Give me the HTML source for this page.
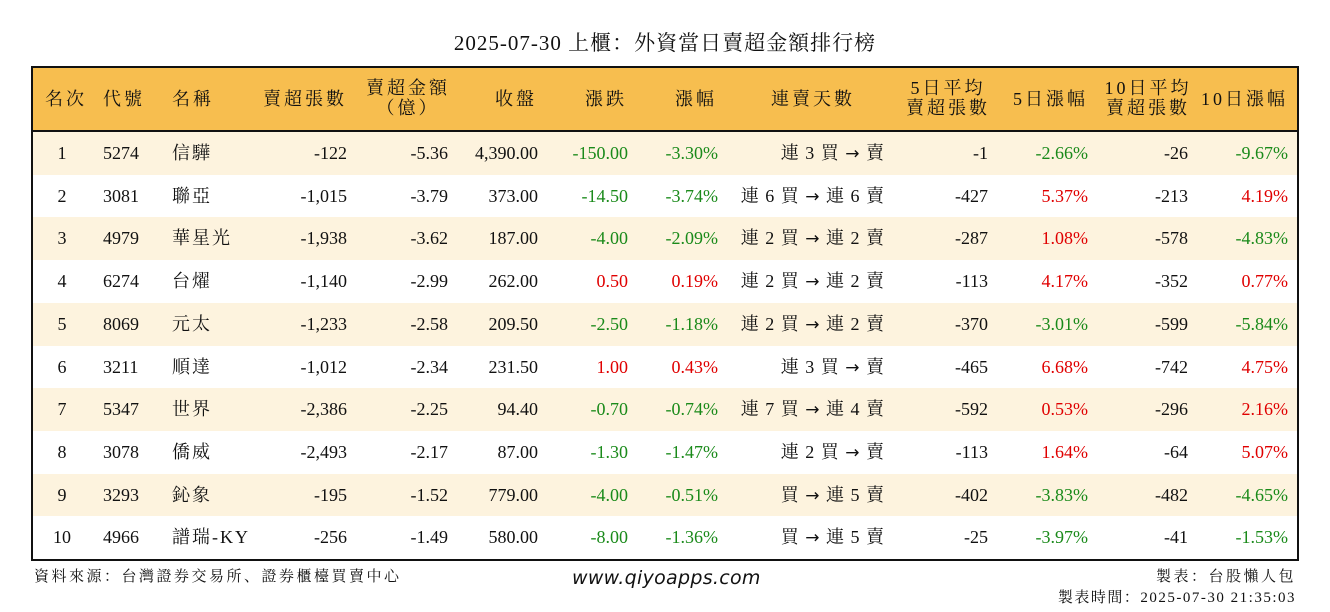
<!DOCTYPE html>
<html><head><meta charset="utf-8">
<style>
body{margin:0;width:1330px;height:612px;background:#fff;position:relative;overflow:hidden;font-family:"Liberation Serif","Noto Serif CJK SC",serif;color:#111}
.cjk{font-family:"Noto Serif CJK SC",serif}
#title{position:absolute;left:0;width:1330px;top:28px;text-align:center;font-size:21px;line-height:28px;letter-spacing:1px}
#tbl{position:absolute;left:31px;top:66px;width:1264px;height:491px;border:2px solid #111;overflow:hidden}
#head{position:absolute;left:0;top:0;width:1264px;height:62px;background:#F7BE4F;border-bottom:2px solid #111}
.c{position:absolute;font-size:18px;line-height:20px;white-space:nowrap}
.hd{letter-spacing:3px}
.row{position:absolute;left:0;width:1264px;height:43px}
.g{color:#1a8a1a}.r{color:#e00000}
.ft{position:absolute;font-size:15px;line-height:20px;white-space:nowrap;letter-spacing:2.5px}
.arr{font-family:"DejaVu Sans",sans-serif;font-size:17px}
</style></head><body>
<div id="title">2025-07-30 上櫃<span class="cjk">：</span>外資當日賣超金額排行榜</div>
<div id="tbl">
<div id="head"></div>
</div>
<div class="ft" style="left:34px;top:566px">資料來源<span class="cjk">：</span>台灣證券交易所、證券櫃檯買賣中心</div>
<div class="ft" style="left:572px;top:568px;font-family:'DejaVu Sans',sans-serif;font-style:italic;font-size:19px;letter-spacing:0.3px">www.qiyoapps.com</div>
<div class="ft" style="right:34px;top:566px">製表<span class="cjk">：</span>台股懶人包</div>
<div class="ft" style="right:34px;top:587px;letter-spacing:1.5px">製表時間<span class="cjk">：</span>2025-07-30 21:35:03</div>
<script>
const ranks=[1,2,3,4,5,6,7,8,9,10];
const codes=["5274","3081","4979","6274","8069","3211","5347","3078","3293","4966"];
const names=["信驊","聯亞","華星光","台燿","元太","順達","世界","僑威","鈊象","譜瑞-KY"];
const sellVol=["-122","-1,015","-1,938","-1,140","-1,233","-1,012","-2,386","-2,493","-195","-256"];
const sellAmt=["-5.36","-3.79","-3.62","-2.99","-2.58","-2.34","-2.25","-2.17","-1.52","-1.49"];
const closes=["4,390.00","373.00","187.00","262.00","209.50","231.50","94.40","87.00","779.00","580.00"];
const changes=["-150.00","-14.50","-4.00","0.50","-2.50","1.00","-0.70","-1.30","-4.00","-8.00"];
const pcts=["-3.30%","-3.74%","-2.09%","0.19%","-1.18%","0.43%","-0.74%","-1.47%","-0.51%","-1.36%"];
const streaks=["連 3 買 → 賣","連 6 買 → 連 6 賣","連 2 買 → 連 2 賣","連 2 買 → 連 2 賣","連 2 買 → 連 2 賣","連 3 買 → 賣","連 7 買 → 連 4 賣","連 2 買 → 賣","買 → 連 5 賣","買 → 連 5 賣"];
const avg5=["-1","-427","-287","-113","-370","-465","-592","-113","-402","-25"];
const pct5=["-2.66%","5.37%","1.08%","4.17%","-3.01%","6.68%","0.53%","1.64%","-3.83%","-3.97%"];
const avg10=["-26","-213","-578","-352","-599","-742","-296","-64","-482","-41"];
const pct10=["-9.67%","4.19%","-4.83%","0.77%","-5.84%","4.75%","2.16%","5.07%","-4.65%","-1.53%"];
const tbl=document.getElementById('tbl'),head=document.getElementById('head');
function cell(parent,text,x,y,align,cls){
 const d=document.createElement('div');d.className='c '+(cls||'');
 if(text.includes('→')){d.innerHTML=text.replace('→','<span class="arr">→</span>');d.style.letterSpacing='1px';}
 else d.textContent=text;
 d.style.top=y+'px';
 if(align==='r'){d.style.right=(1264-x)+'px';}
 else if(align==='c'){d.style.left=(x-100)+'px';d.style.width='200px';d.style.textAlign='center';}
 else d.style.left=x+'px';
 parent.appendChild(d);return d;}
const H=[["名次",12,'l',21],["代號",70,'l',21],["名稱",139,'l',21],["賣超張數",314,'r',21],["賣超金額\n（億）",375,'c',10],["收盤",504,'r',21],["漲跌",594,'r',21],["漲幅",684,'r',21],["連賣天數",780,'c',21],["5日平均\n賣超張數",955,'c',10],["5日漲幅",1055,'r',21],["10日平均\n賣超張數",1155,'c',10],["10日漲幅",1255,'r',21]];
H.forEach(h=>{let x=h[1];if(h[0].startsWith('5日平均'))x=915;if(h[0].startsWith('10日平均'))x=1115;
 const d=cell(head,h[0],x,h[3],h[2]);d.classList.add('hd');d.style.whiteSpace='pre';d.style.lineHeight='20px';
 
 });
const cls=v=>v.startsWith('-')?'g':'r';
ranks.forEach((rk,i)=>{
 const row=document.createElement('div');row.className='row';
 row.style.top=(64+i*42.7)+'px';row.style.background=i%2===0?'#FDF3DE':'#fff';
 
 
 tbl.appendChild(row);
 const y=11;
 const cs=[[String(rk),29,'c'],[codes[i],70,'l'],[names[i],139,'l'],[sellVol[i],314,'r'],[sellAmt[i],415,'r'],[closes[i],505,'r'],[changes[i],595,'r',cls(changes[i])],[pcts[i],685,'r',cls(pcts[i])],[streaks[i],852,'r'],[avg5[i],955,'r'],[pct5[i],1055,'r',cls(pct5[i])],[avg10[i],1155,'r'],[pct10[i],1255,'r',cls(pct10[i])]];
 cs.forEach(c=>{const d=cell(row,c[0],c[1],y,c[2],c[3]);
  if(c[1]===139)d.style.letterSpacing='2px';
  
  });
});
</script>
</body></html>
